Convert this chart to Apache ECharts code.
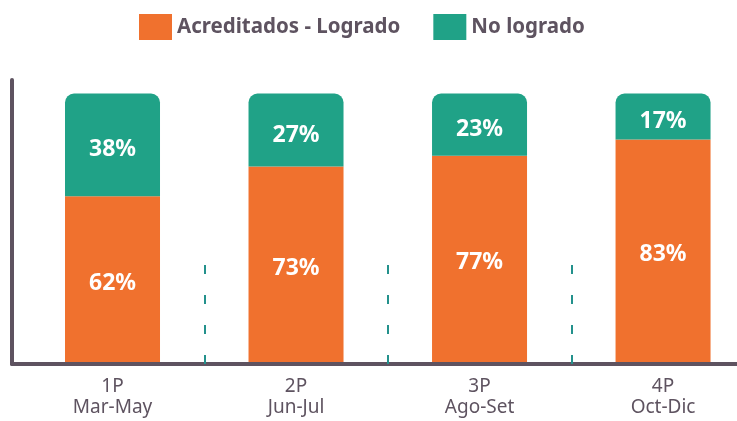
<!DOCTYPE html>
<html>
<head>
<meta charset="utf-8">
<script src="https://cdn.jsdelivr.net/npm/echarts@6/dist/echarts.min.js"></script>
<style>
  html, body { margin: 0; padding: 0; background: #fff; }
  #chart { width: 737px; height: 421px; }
</style>
</head>
<body>
<div id="chart"></div>
<script>
// periods shown under each bar
const periods = ["1P\nMar-May", "2P\nJun-Jul", "3P\nAgo-Set", "4P\nOct-Dic"];
const logrado = [62, 73, 77, 83];
const noLogrado = [38, 27, 23, 17];
const seriesNames = ["Acreditados - Logrado", "No logrado"];

const axisColor = "#5e5360";
const font = "Noto Sans";

// bars sit at slots 1..4 on a value axis so the axis lines can run edge to edge.
// value goes first in each point so the stack is built on the value, not the slot
const toPoints = (arr) => arr.map((v, i) => [v, i + 1]);
const slots = periods.map((p, i) => i + 1);
const gaps = slots.slice(1).map((s) => s - 0.5);

const barLabel = (dy) => ({
  show: true,
  position: "inside",
  offset: [0, dy],
  formatter: (p) => p.value[0] + "%",
  color: "#fff",
  fontSize: 23,
  fontWeight: "bold",
  fontFamily: font,
});

const chart = echarts.init(document.getElementById("chart"));
chart.setOption({
  animation: false,
  textStyle: { fontFamily: font },
  legend: {
    top: 9,
    left: 134,
    itemWidth: 33,
    itemHeight: 26,
    itemGap: 33,
    icon: "rect",
    textStyle: { fontSize: 20.5, fontWeight: "bold", color: axisColor, fontFamily: font },
    data: seriesNames,
  },
  grid: { left: 12, right: 0, top: 80, bottom: 57 },
  xAxis: {
    type: "value",
    min: 0.4523,
    max: 4.403,
    z: 5,
    splitLine: { show: false },
    axisLine: { lineStyle: { color: axisColor, width: 4 } },
    axisTick: {
      show: true,
      inside: true,
      length: 103,
      customValues: gaps,
      lineStyle: { color: "#23918c", width: 2, type: [9, 21] },
    },
    axisLabel: {
      customValues: slots,
      formatter: (v) => periods[Math.round(v) - 1],
      fontSize: 19,
      lineHeight: 21,
      margin: 12,
      color: axisColor,
      fontFamily: font,
    },
  },
  yAxis: {
    type: "value",
    min: 0,
    max: 105,
    splitLine: { show: false },
    axisTick: { show: false },
    axisLabel: { show: false },
    axisLine: { show: true, lineStyle: { color: axisColor, width: 4 } },
  },
  series: [
    {
      name: seriesNames[0],
      type: "bar",
      stack: "total",
      barWidth: 95,
      encode: { x: 1, y: 0 },
      itemStyle: { color: "#f0712e" },
      label: barLabel(3),
      data: toPoints(logrado),
    },
    {
      name: seriesNames[1],
      type: "bar",
      stack: "total",
      barWidth: 95,
      encode: { x: 1, y: 0 },
      itemStyle: { color: "#20a287", borderRadius: [9, 9, 0, 0] },
      label: barLabel(5),
      data: toPoints(noLogrado),
    },
  ],
});
</script>
</body>
</html>
